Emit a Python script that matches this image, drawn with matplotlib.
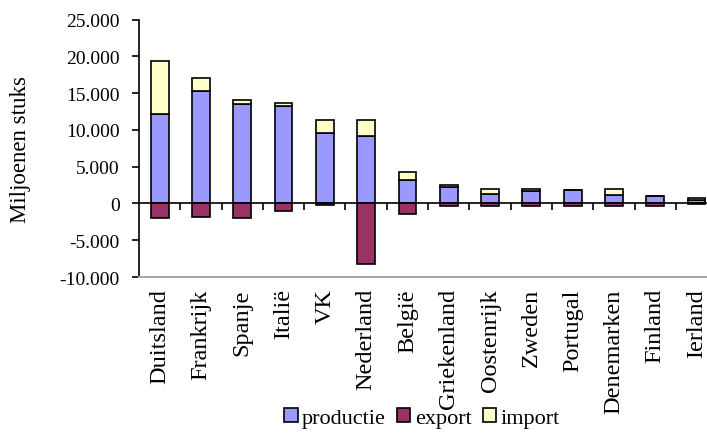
import matplotlib
matplotlib.use("Agg")
import matplotlib.pyplot as plt
from matplotlib.ticker import FuncFormatter, FixedLocator
import numpy as np

landen = ["Duitsland", "Frankrijk", "Spanje", "Italië", "VK", "Nederland", "België",
          "Griekenland", "Oostenrijk", "Zweden", "Portugal", "Denemarken", "Finland", "Ierland"]
productie = [12200, 15300, 13500, 13300, 9600, 9200, 3200, 2300, 1250, 1700, 1800, 1200, 1000, 500]
export = [-2000, -1800, -2000, -1000, -200, -8200, -1500, -300, -300, -300, -300, -300, -300, -100]
import_ = [7200, 1800, 600, 300, 1700, 2100, 1100, 250, 750, 300, 0, 800, 0, 300]

y_ticks = [-10000, -5000, 0, 5000, 10000, 15000, 20000, 25000]

plt.rcParams["font.family"] = ["Liberation Serif", "DejaVu Serif"]
plt.rcParams["font.size"] = 16

c_prod = "#9999FF"
c_exp = "#993366"
c_imp = "#FFFFCC"

fig = plt.figure(figsize=(7.07, 4.39), dpi=100)
ax = fig.add_axes([0.1966, 0.3667, 0.8178, 0.5866])

x = np.arange(len(landen))
w = 0.43
edge = dict(edgecolor="black", linewidth=1.2)
b1 = ax.bar(x, productie, w, color=c_prod, label="productie", zorder=3, **edge)
b2 = ax.bar(x, export, w, color=c_exp, label="export", zorder=3, **edge)
b3 = ax.bar(x, import_, w, bottom=productie, color=c_imp, label="import", zorder=3, **edge)

ax.set_xlim(-0.5, len(landen) - 0.5)
ax.set_ylim(y_ticks[0], y_ticks[-1])
ax.set_yticks(y_ticks)
ax.yaxis.set_major_formatter(FuncFormatter(lambda v, p: f"{int(v):,}".replace(",", ".")))
ax.tick_params(axis="y", direction="out", length=5, width=1.2, pad=9, labelsize=14)

ax.set_xticks(x)
ax.set_xticklabels(landen, rotation=90, va="top", ha="center", fontsize=17.5)
ax.tick_params(axis="x", length=0, pad=8)

for s in ["top", "right"]:
    ax.spines[s].set_visible(False)
ax.spines["left"].set_linewidth(1.2)
ax.spines["bottom"].set_color("#A8A8A8")
ax.spines["bottom"].set_linewidth(1.5)

# horizontal category axis through zero with ticks between categories
zero_frac = (0 - y_ticks[0]) / (y_ticks[-1] - y_ticks[0])
sec = ax.secondary_xaxis(zero_frac)
sec.xaxis.set_major_locator(FixedLocator(np.arange(len(landen)) + 0.5))
sec.tick_params(axis="x", direction="out", length=5, width=1.2, labelbottom=False, labeltop=False)
sec.spines["bottom"].set_linewidth(1.2)
sec.set_zorder(5)

ax.set_ylabel("Miljoenen stuks", fontsize=16.5)
ax.yaxis.set_label_coords(-0.187, 0.5)

fig.legend(handles=[b1, b2, b3], labels=["productie", "export", "import"],
           loc="center", bbox_to_anchor=(422 / 707, 1 - 419 / 439), ncol=3,
           frameon=False, handlelength=0.6, handleheight=0.6, handletextpad=0.2,
           columnspacing=0.5, borderpad=0, fontsize=16)

fig.savefig("out.png", dpi=100)
